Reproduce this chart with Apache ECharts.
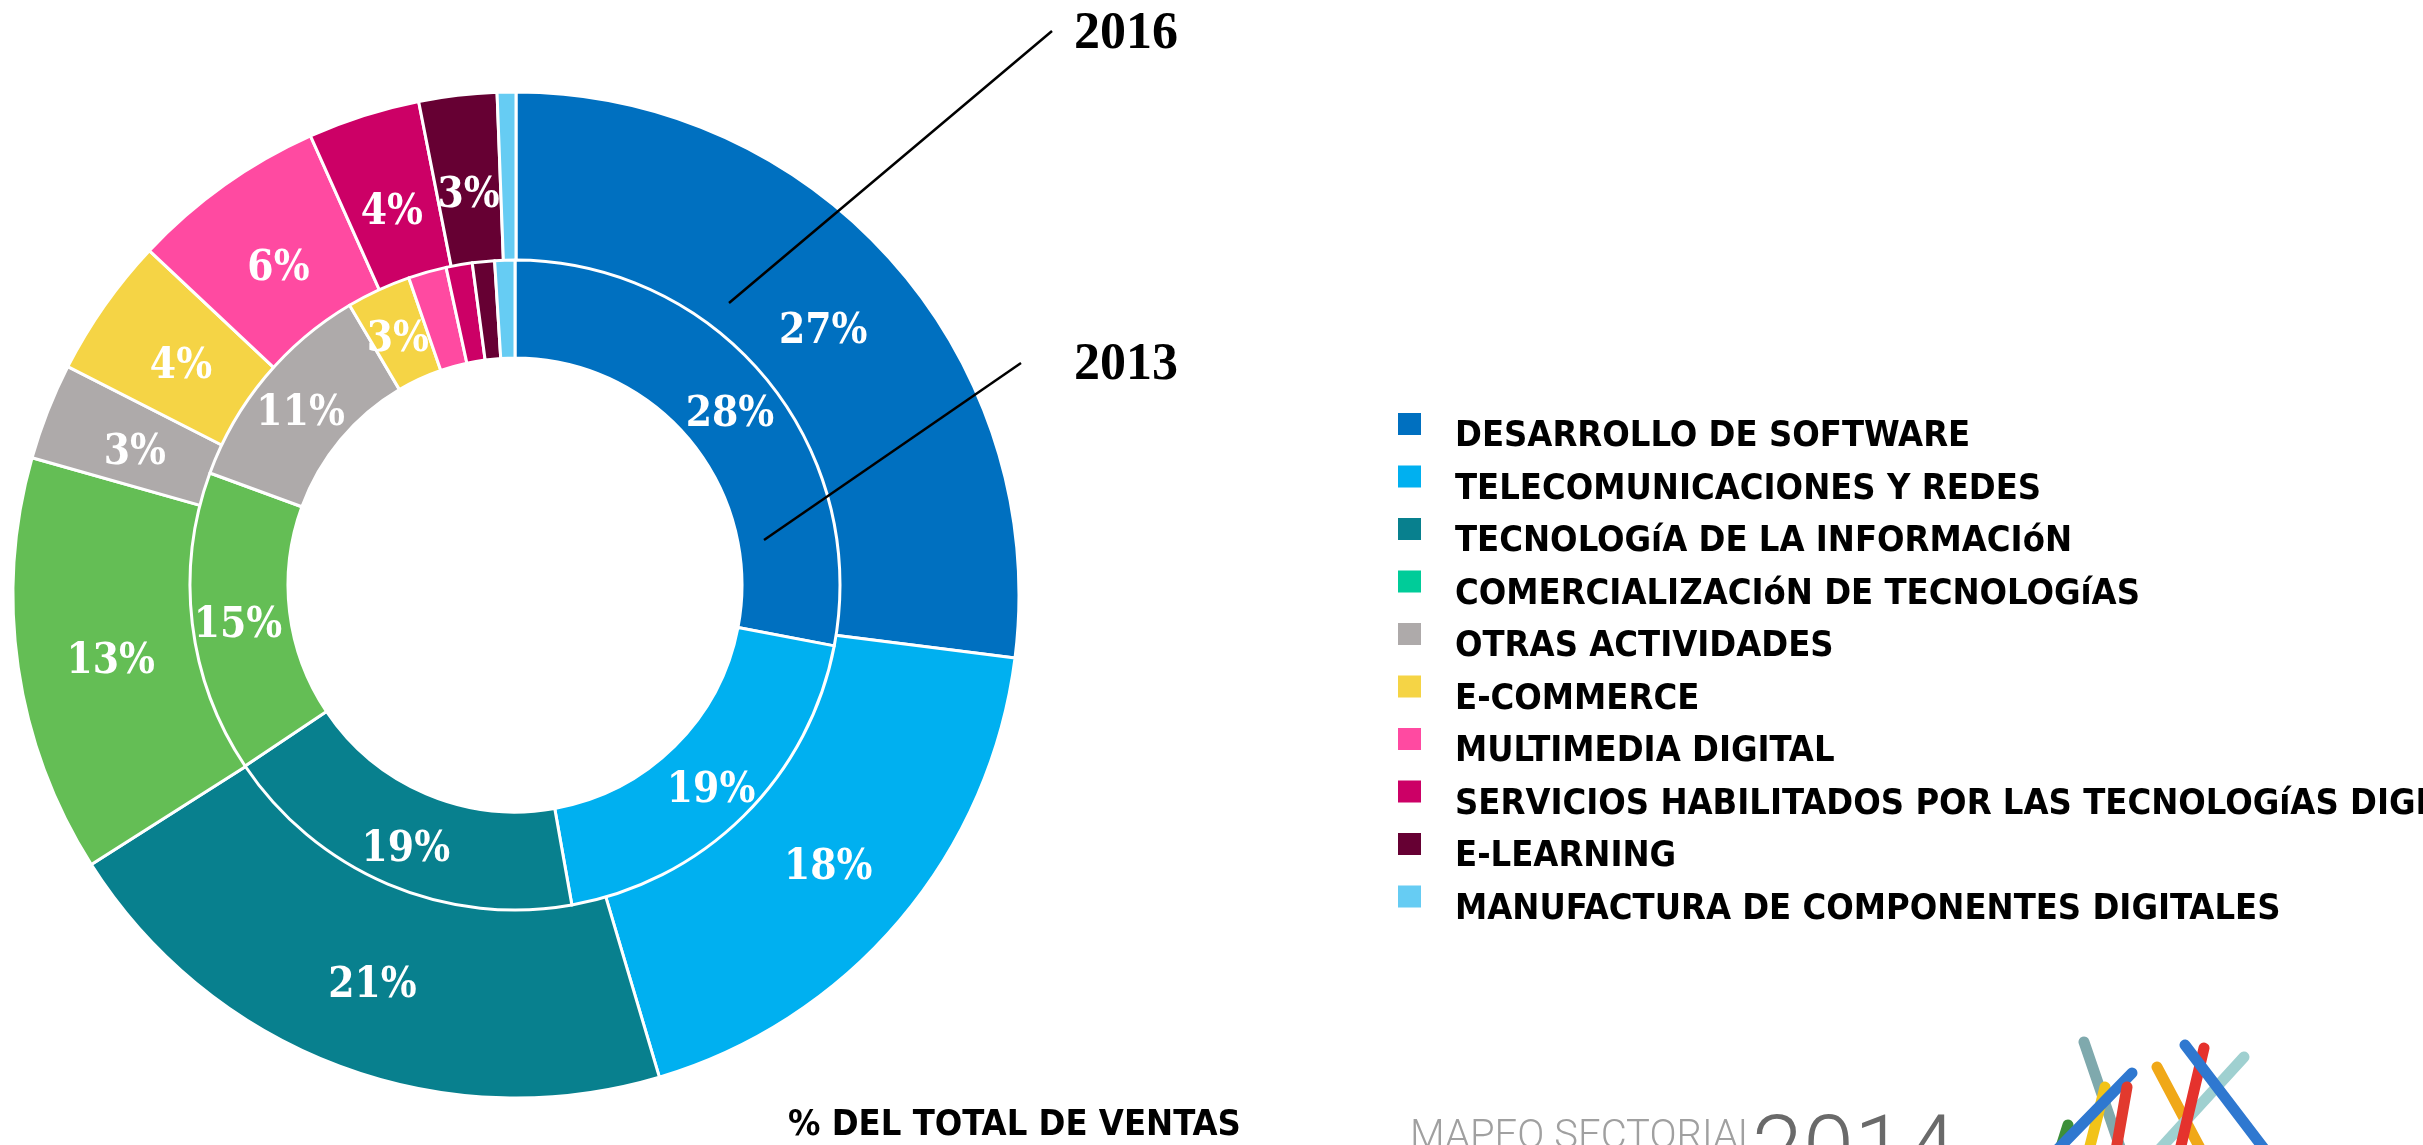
<!DOCTYPE html>
<html>
<head>
<meta charset="utf-8">
<script src="https://cdn.jsdelivr.net/npm/echarts@6/dist/echarts.min.js"></script>
<style>
  html, body { margin: 0; padding: 0; background: #fff; }
  #chart { width: 2423px; height: 1145px; }
</style>
</head>
<body>
<div id="chart"></div>
<script>
// categorias y valores (% del total de ventas)
const categorias = [
  'DESARROLLO DE SOFTWARE',
  'TELECOMUNICACIONES Y REDES',
  'TECNOLOGíA DE LA INFORMACIóN',
  'COMERCIALIZACIóN DE TECNOLOGíAS',
  'OTRAS ACTIVIDADES',
  'E-COMMERCE',
  'MULTIMEDIA DIGITAL',
  'SERVICIOS HABILITADOS POR LAS TECNOLOGíAS DIGITALES',
  'E-LEARNING',
  'MANUFACTURA DE COMPONENTES DIGITALES'
];
const ventas2016 = [27.0, 18.4, 20.6, 13.4, 3.1, 4.5, 6.3, 3.6, 2.5, 0.6];
const ventas2013 = [28.0, 19.2, 18.4, 15.0, 10.9, 3.2, 1.9, 1.3, 1.1, 1.0];
const etiquetas2016 = ['27%', '18%', '21%', '13%', '3%', '4%', '6%', '4%', '3%', ''];
const etiquetas2013 = ['28%', '19%', '19%', '15%', '11%', '3%', '', '', '', ''];
const colores = ['#0070C0', '#00B0F0', '#08808E', '#64BE55', '#AEAAAA',
                 '#F5D445', '#FF4AA1', '#CC0066', '#660033', '#66CCF3'];

const fuenteTitulo = "'DejaVu Sans Condensed', 'DejaVu Sans', sans-serif";
const fuenteEtiqueta = "'DejaVu Serif Condensed', 'DejaVu Serif', serif";

var chart = echarts.init(document.getElementById('chart'));

function serie(nombre, valores, etiquetas, centro, radio, z) {
  return {
    name: nombre,
    type: 'pie',
    center: centro,
    radius: radio,
    startAngle: 90,
    clockwise: true,
    z: z,
    silent: true,
    avoidLabelOverlap: false,
    itemStyle: { borderColor: '#fff', borderWidth: 3 },
    label: {
      show: true,
      position: 'inside',
      color: '#fff',
      fontFamily: fuenteEtiqueta,
      fontWeight: 'bold',
      fontSize: 42,
      formatter: function (p) { return etiquetas[p.dataIndex]; }
    },
    labelLayout: { dy: 8 },
    labelLine: { show: false },
    data: categorias.map(function (c, i) { return { name: c, value: valores[i] }; })
  };
}

// leyenda: el cuadro de "comercializacion" viene con otro color en el original
const leyenda = categorias.map(function (c, i) {
  if (i === 3) {
    return { name: c, itemStyle: { color: '#00CC99' } };
  }
  return { name: c };
});

// palitos del logo
const palitos = [
  ['#7fa9ad', 2084, 1042, 2121, 1150],
  ['#f2c318', 2105, 1087, 2089, 1150],
  ['#3d8f3a', 2068, 1125, 2060, 1150],
  ['#2f78d0', 2132, 1073, 2057, 1150],
  ['#e23a2e', 2127, 1087, 2116, 1150],
  ['#f0a818', 2157, 1067, 2201, 1150],
  ['#9fd0d0', 2244, 1057, 2159, 1150],
  ['#e5322d', 2204, 1048, 2180, 1150],
  ['#2f78d0', 2185, 1045, 2265, 1150]
];

const option = {
  animation: false,
  backgroundColor: '#fff',
  color: colores,
  legend: {
    orient: 'vertical',
    left: 1398,
    top: 413,
    padding: 0,
    itemWidth: 23,
    itemHeight: 48,
    itemGap: 4.5,
    // cuadro arriba, texto algo mas abajo
    icon: 'path://M0 0H23V22H0Z M0 47.9H0.01V48H0Z',
    selectedMode: false,
    itemStyle: { borderWidth: 0 },
    textStyle: {
      fontFamily: fuenteTitulo,
      fontWeight: 'bold',
      fontSize: 36,
      color: '#000',
      padding: [0, 0, 0, 29],
      textShadowColor: 'rgba(0,0,0,0.75)',
      textShadowOffsetX: 2,
      textShadowOffsetY: 2,
      textShadowBlur: 0
    },
    data: leyenda
  },
  series: [
    serie('2016', ventas2016, etiquetas2016, [516, 595], [310, 503], 1),
    serie('2013', ventas2013, etiquetas2013, [515, 585], [227, 325], 2)
  ],
  graphic: [
    { type: 'line', shape: { x1: 1052, y1: 31, x2: 729, y2: 303 }, style: { stroke: '#000', lineWidth: 2.5 }, z: 10 },
    { type: 'line', shape: { x1: 1021, y1: 363, x2: 764, y2: 540 }, style: { stroke: '#000', lineWidth: 2.5 }, z: 10 },
    { type: 'text', x: 1074, y: 35, z: 10,
      style: { text: '2016', font: "bold 52px 'Liberation Serif', serif", fill: '#000', verticalAlign: 'middle',
               shadowColor: 'rgba(0,0,0,0.6)', shadowOffsetX: 2, shadowOffsetY: 2 } },
    { type: 'text', x: 1074, y: 366, z: 10,
      style: { text: '2013', font: "bold 52px 'Liberation Serif', serif", fill: '#000', verticalAlign: 'middle',
               shadowColor: 'rgba(0,0,0,0.6)', shadowOffsetX: 2, shadowOffsetY: 2 } },
    { type: 'text', x: 788, y: 1126, z: 10,
      style: { text: '% DEL TOTAL DE VENTAS', font: "bold 36px " + fuenteTitulo, fill: '#000', verticalAlign: 'middle',
               shadowColor: 'rgba(0,0,0,0.75)', shadowOffsetX: 2, shadowOffsetY: 2 } },
    { type: 'text', x: 1410, y: 1138, z: 10,
      style: { text: 'MAPEO SECTORIAL', font: "300 40px Roboto, sans-serif", fill: '#a0a0a0', verticalAlign: 'middle' } },
    { type: 'text', x: 1752, y: 1158, z: 10,
      style: { text: '2014', font: "300 92px Roboto, sans-serif", fill: '#6a6a6a', verticalAlign: 'middle' } }
  ].concat(palitos.map(function (p) {
    return { type: 'line', z: 10, shape: { x1: p[1], y1: p[2], x2: p[3], y2: p[4] },
             style: { stroke: p[0], lineWidth: 11, lineCap: 'round' } };
  }))
};

chart.setOption(option);
</script>
</body>
</html>
